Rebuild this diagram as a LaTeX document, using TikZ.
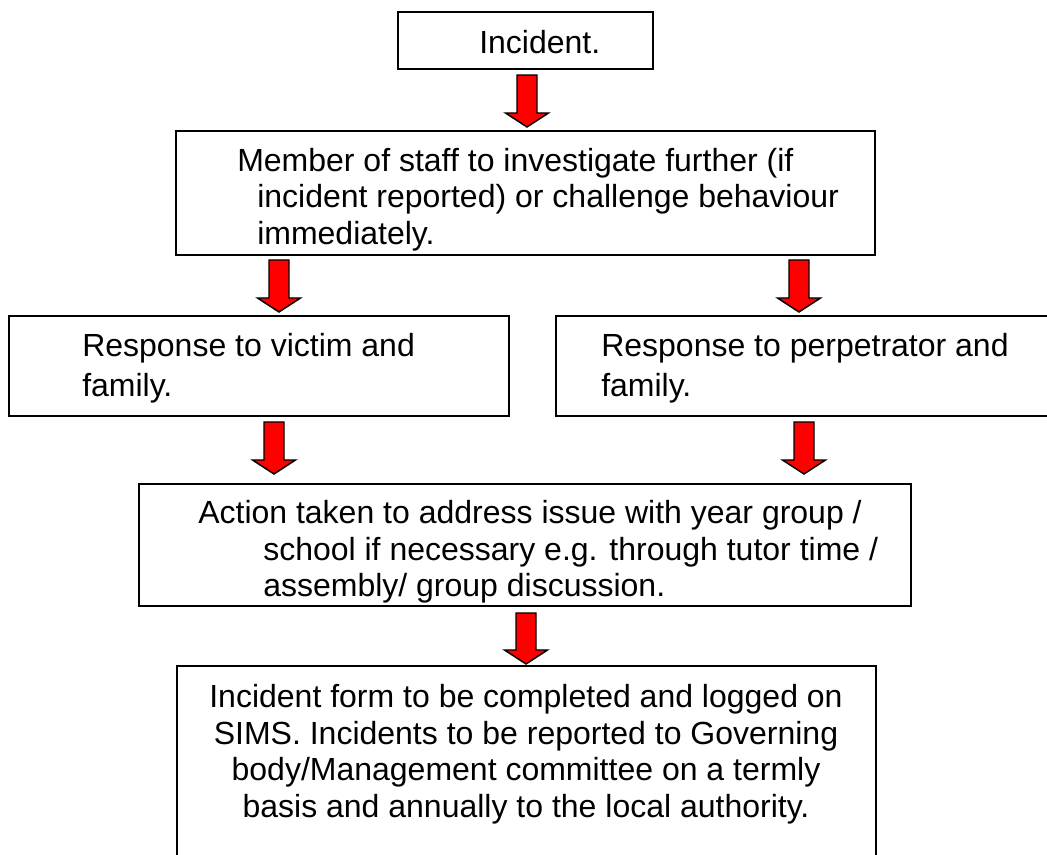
\documentclass[tikz,border=0pt]{standalone}
\usepackage{fontspec}
\setmainfont{Liberation Sans}
\usetikzlibrary{calc,fit}
\newcommand\blockarrow[5]{% #1 x-coordinate, #2 from node, #3 to node, #4 top gap, #5 bottom gap
  \draw[arrowbody]
    ($(#1 |- #2.south)+(-10,#4)$) -- ($(#1 |- #2.south)+(10,#4)$)
    -- ($(#1 |- #3.north)+(10,-#5-14)$) -- ($(#1 |- #3.north)+(21.5,-#5-14)$)
    -- ($(#1 |- #3.north)+(0,-#5)$)
    -- ($(#1 |- #3.north)+(-21.5,-#5-14)$) -- ($(#1 |- #3.north)+(-10,-#5-14)$) -- cycle;}
\begin{document}
\begin{tikzpicture}[x=0.75pt,y=-0.75pt,
  box/.style={draw=black, line width=1.5pt, inner sep=0pt},
  txt/.style={anchor=base west, inner sep=0pt, font=\fontsize{24}{27.5}\selectfont},
  ctxt/.style={anchor=base, inner sep=0pt, font=\fontsize{24}{27.5}\selectfont},
  arrowbody/.style={draw=black, fill=red, line width=1.1pt, line join=miter}]
\useasboundingbox (0,0) rectangle (1047,855);
% boxes
\node[box, fit={(398,12) (653,69)}] (b1) {};
\node[box, fit={(176,131) (875,255)}] (b2) {};
\node[box, fit={(9,316) (509,416)}] (b3) {};
\node[box, fit={(556,316) (1060,416)}] (b4) {};
\node[box, fit={(139,484) (911,606)}] (b5) {};
\node[box, fit={(177,666) (876,900)}] (b6) {};
% texts
\node[txt] (t1) at (479,54) {Incident.};
\node[txt] (t2a) at (237,172) {Member of staff to investigate further (if};
\node[txt] (t2b) at (257,208) {incident reported) or challenge behaviour};
\node[txt] (t2c) at (257,245) {immediately.};
\node[txt] (t3a) at (82,357) {Response to victim and};
\node[txt] (t3b) at (82,397) {family.};
\node[txt] (t4a) at (601,357) {Response to perpetrator and};
\node[txt] (t4b) at (601,397) {family.};
\node[txt] (t5a) at (198,524) {Action taken to address issue with year group /};
\node[txt] (t5b) at (263,561) {school if necessary e.g. through tutor time /};
\node[txt] (t5c) at (263,597) {assembly/ group discussion.};
\node[ctxt] (t6a) at (526,707) {Incident form to be completed and logged on};
\node[ctxt] (t6b) at (526,744) {SIMS. Incidents to be reported to Governing};
\node[ctxt] (t6c) at (526,780) {body/Management committee on a termly};
\node[ctxt] (t6d) at (526,817) {basis and annually to the local authority.};
% arrow positions
\coordinate (x1) at (527,0);
\coordinate (x2) at (279,0);
\coordinate (x3) at (799,0);
\coordinate (x4) at (274,0);
\coordinate (x5) at (804,0);
\coordinate (x6) at (526,0);
% arrows
\blockarrow{x1}{b1}{b2}{5}{3}
\blockarrow{x2}{b2}{b3}{4}{3}
\blockarrow{x3}{b2}{b4}{4}{3}
\blockarrow{x4}{b3}{b5}{5}{9}
\blockarrow{x5}{b4}{b5}{5}{9}
\blockarrow{x6}{b5}{b6}{6}{1}
\end{tikzpicture}
\end{document}
